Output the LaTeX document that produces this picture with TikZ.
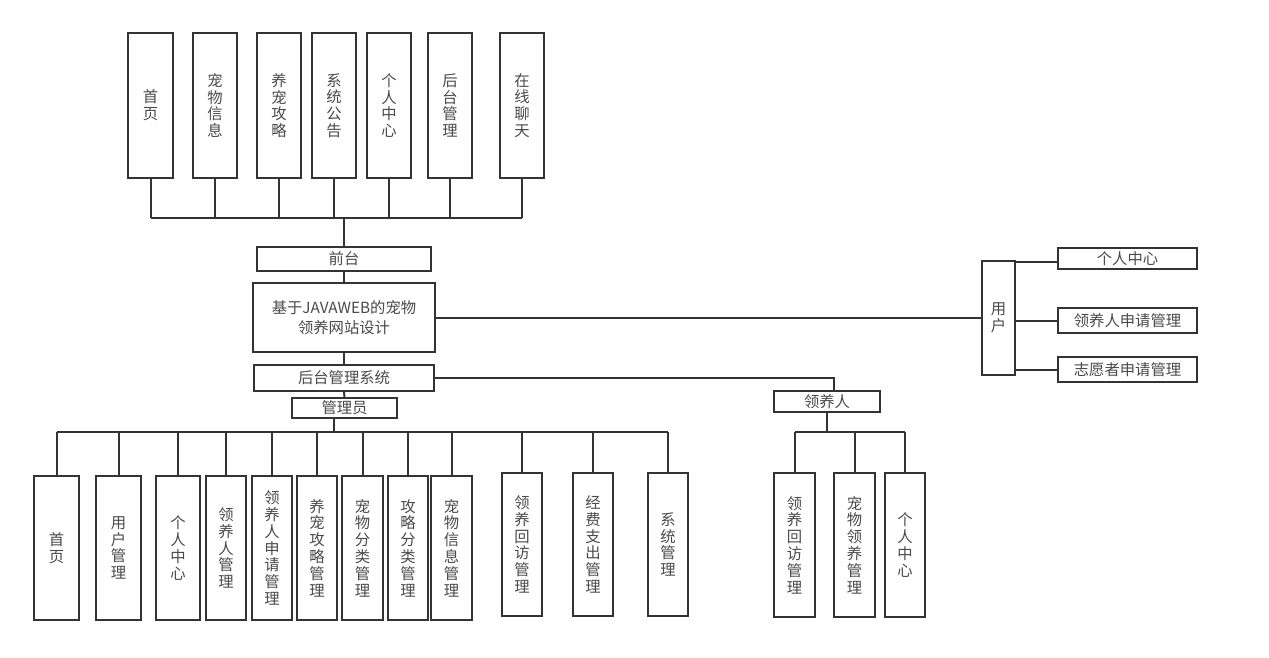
\documentclass[tikz,border=0pt]{standalone}
\usepackage{fontspec}
\newfontfamily\cjk{Noto Sans CJK SC}
\definecolor{ln}{HTML}{333333}
\definecolor{tx}{HTML}{4A4A4A}
\tikzset{
  box/.style={draw=ln, line width=1.5pt, fill=white, inner sep=0pt, outer sep=0pt, align=center, text=tx,
    font=\cjk\fontsize{11.5}{12.6}\selectfont},
  conn/.style={draw=ln, line width=1.5pt}
}
\newcommand\bx[6]{\node[box, minimum width={(#4-#2)*0.75pt}, minimum height={(#5-#3)*0.75pt}] (#1) at ({(#2+#4)/2},{(#3+#5)/2}) {#6};}
\begin{document}
\begin{tikzpicture}[x=0.75pt,y=-0.75pt]
\useasboundingbox[fill=white] (0,0) rectangle (1269,657);
% top row
\bx{t1}{128}{33}{173}{178}{首\\页}
\bx{t2}{193}{33}{237}{178}{宠\\物\\信\\息}
\bx{t3}{257}{33}{301}{178}{养\\宠\\攻\\略}
\bx{t4}{312}{33}{356}{178}{系\\统\\公\\告}
\bx{t5}{367}{33}{411}{178}{个\\人\\中\\心}
\bx{t6}{428}{33}{472}{178}{后\\台\\管\\理}
\bx{t7}{500}{33}{544}{178}{在\\线\\聊\\天}
% centre column
\bx{qt}{257}{247}{431}{271}{前台}
\node[box, minimum width={182*0.75pt}, minimum height={69*0.75pt}, font=\cjk\fontsize{11.5}{15}\selectfont] (main) at (344,317.5) {基于JAVAWEB的宠物\\领养网站设计};
\bx{ht}{254}{365}{434}{391}{后台管理系统}
\bx{gly}{292}{398}{397}{418}{管理员}
% user side
\bx{user}{982}{261}{1015}{375}{用\\户}
\bx{r1}{1058}{248}{1197}{269}{个人中心}
\bx{r2}{1058}{308}{1197}{333}{领养人申请管理}
\bx{r3}{1058}{357}{1197}{382}{志愿者申请管理}
\bx{lyr}{774}{391}{880}{412}{领养人}
% bottom admin row
\bx{b1}{34}{476}{79}{620}{首\\页}
\bx{b2}{96}{476}{141}{620}{用\\户\\管\\理}
\bx{b3}{156}{476}{200}{620}{个\\人\\中\\心}
\bx{b4}{206}{476}{246}{620}{领\\养\\人\\管\\理}
\bx{b5}{252}{476}{292}{620}{领\\养\\人\\申\\请\\管\\理}
\bx{b6}{297}{476}{337}{620}{养\\宠\\攻\\略\\管\\理}
\bx{b7}{342}{476}{383}{620}{宠\\物\\分\\类\\管\\理}
\bx{b8}{388}{476}{428}{620}{攻\\略\\分\\类\\管\\理}
\bx{b9}{431}{476}{472}{620}{宠\\物\\信\\息\\管\\理}
\bx{b10}{502}{473}{542}{616}{领\\养\\回\\访\\管\\理}
\bx{b11}{573}{473}{613}{616}{经\\费\\支\\出\\管\\理}
\bx{b12}{648}{473}{688}{616}{系\\统\\管\\理}
% adopter row
\bx{c1}{774}{473}{815}{617}{领\\养\\回\\访\\管\\理}
\bx{c2}{834}{473}{875}{617}{宠\\物\\领\\养\\管\\理}
\bx{c3}{885}{473}{925}{617}{个\\人\\中\\心}
% bus coordinates
\coordinate (busT) at (344,218);
\coordinate (busB) at (334,432);
\coordinate (busL) at (827,432);
\coordinate (kink) at (834,378);
\coordinate (u1) at (1015,262);
% top connectors
\foreach \n in {t1,t2,t3,t4,t5,t6,t7} \draw[conn] (\n.south) -- (\n.south |- busT);
\draw[conn] (t1.south |- busT) -- (t7.south |- busT);
\draw[conn] (qt.north) -- (busT);
% centre chain
\draw[conn] (qt.south) -- (main.north);
\draw[conn] (main.south) -- (ht.north);
\draw[conn] (ht.south) -- (gly.north);
% user
\draw[conn] (main.east) -- (main.east -| user.west);
\draw[conn] (u1) -- (u1 -| r1.west);
\draw[conn] (user.east |- r2.west) -- (r2.west);
\draw[conn] (user.east |- r3.west) -- (r3.west);
% adopter
\draw[conn] (ht.east) -- (kink) -- (kink |- lyr.north);
\draw[conn] (lyr.south) -- (busL);
\foreach \n in {c1,c2,c3} \draw[conn] (\n.north) -- (\n.north |- busL);
\draw[conn] (c1.north |- busL) -- (c3.north |- busL);
% admin
\draw[conn] (gly.south -| busB) -- (busB);
\foreach \n in {b1,b2,b3,b4,b5,b6,b7,b8,b9,b10,b11,b12} \draw[conn] (\n.north) -- (\n.north |- busB);
\draw[conn] (b1.north |- busB) -- (b12.north |- busB);
\end{tikzpicture}
\end{document}
